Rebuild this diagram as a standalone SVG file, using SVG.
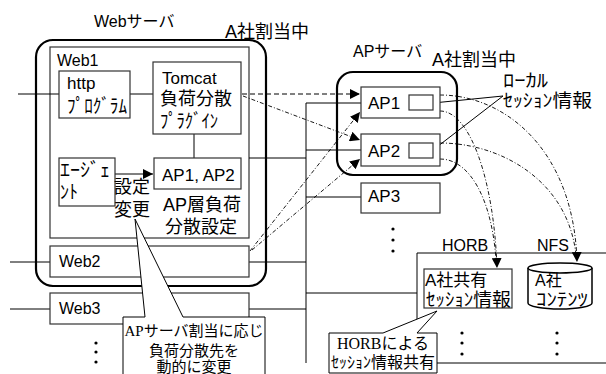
<svg xmlns="http://www.w3.org/2000/svg" width="606" height="374" viewBox="0 0 606 374">
<style>
text{font-family:"Liberation Sans","Noto Sans CJK JP",sans-serif;font-size:17px;fill:#000}
.j{font-size:18px}
.hk{font-size:19px}
.hs{font-size:18px}
.sr{font-family:"Liberation Serif","Noto Sans CJK JP",serif;font-size:15px}
.bx{fill:#fff;stroke:#333;stroke-width:1.2}
.grp{fill:none;stroke:#000;stroke-width:2.2}
.ln{fill:none;stroke:#000;stroke-width:1}
.ds{fill:none;stroke:#000;stroke-width:1;stroke-dasharray:5,3}
.dd{fill:none;stroke:#000;stroke-width:0.9;stroke-dasharray:4,2,1,2}
</style>
<defs>
<marker id="ah" viewBox="0 0 10 10" refX="10" refY="5" markerWidth="10" markerHeight="10" markerUnits="userSpaceOnUse" orient="auto">
<path d="M0,0 L10,5 L0,10 z" fill="#000"/>
</marker>
</defs>
<rect width="606" height="374" fill="#fff"/>

<g id="labels">
<text x="94" y="27" style="font-size:16px">Webサーバ</text>
<text x="225" y="38" class="j">A社割当中</text>
<text x="353" y="57" style="font-size:16px">APサーバ</text>
<text x="432" y="66" class="j">A社割当中</text>
<text x="442" y="251" style="font-size:16px">HORB</text>
<text x="537" y="251" style="font-size:16px">NFS</text>
</g>

<g id="web-server-group">
<rect x="36" y="40" width="230" height="246" rx="17" class="grp"/>
</g>

<g id="web1">
<rect x="50" y="47" width="199" height="191" style="fill:none;stroke:#333;stroke-width:1.2"/>
<text x="57" y="66" style="font-size:16px">Web1</text>
</g>

<g id="connectors">
<path class="ln" d="M18,94 H59 M130,94 H153 M194,134 V158 M249,158 H306 M306,103 V363 M306,103 H361 M306,150 H361 M306,197 H361 M10,262 H50 M249,262 H306 M10,309 H50 M249,309 H306 M306,293 H417"/>
<path class="ln" d="M115,174 H153" marker-end="url(#ah)"/>
<path class="ds" d="M242,94 H360" marker-end="url(#ah)"/>
<path class="dd" d="M243,96 L360,140" marker-end="url(#ah)"/>
<path class="dd" d="M250,251 L360,112" marker-end="url(#ah)"/>
<path class="dd" d="M252,250 L360,159" marker-end="url(#ah)"/>
<path class="dd" d="M440,95 C505,95 574,150 577,262" marker-end="url(#ah)"/>
<path class="dd" d="M440,143 C500,143 568,180 576,255"/>
<path class="dd" d="M440,111 C470,111 494,180 497,268" marker-end="url(#ah)"/>
<path class="dd" d="M440,159 C470,159 492,200 496,260"/>
<path class="ln" d="M503,96 L433,103 M503,96 L433,150"/>
</g>

<g id="http">
<rect x="59" y="71" width="71" height="47" class="bx"/>
<text x="67" y="89">http</text>
<text x="67" y="113" class="hk" textLength="60" lengthAdjust="spacingAndGlyphs">ﾌﾟﾛｸﾞﾗﾑ</text>
</g>

<g id="tomcat">
<rect x="153" y="62" width="88" height="72" class="bx"/>
<text x="162" y="84">Tomcat</text>
<text x="160" y="105" class="j">負荷分散</text>
<text x="160" y="128" class="hk" textLength="58" lengthAdjust="spacingAndGlyphs">ﾌﾟﾗｸﾞｲﾝ</text>
</g>

<g id="agent">
<rect x="59" y="158" width="56" height="48" class="bx"/>
<text x="60" y="177" class="hk" textLength="50" lengthAdjust="spacingAndGlyphs">ｴｰｼﾞｪ</text>
<text x="60" y="199" class="hk" textLength="18" lengthAdjust="spacingAndGlyphs">ﾝﾄ</text>
</g>

<g id="ap12-setting">
<rect x="154" y="158" width="87" height="31" class="bx"/>
<text x="162" y="181">AP1, AP2</text>
</g>

<g id="setting-labels">
<text x="114" y="193" class="j">設定</text>
<text x="114" y="216" class="j">変更</text>
<text x="163" y="211" class="j">AP層負荷</text>
<text x="165" y="233" class="j">分散設定</text>
</g>

<g id="web2">
<rect x="50" y="246" width="199" height="31" class="bx"/>
<text x="59" y="267" style="font-size:16px">Web2</text>
</g>

<g id="web3">
<rect x="50" y="293" width="199" height="31" class="bx"/>
<text x="59" y="314" style="font-size:16px">Web3</text>
</g>

<g id="ap-server-group">
<rect x="337" y="72" width="120" height="103" rx="16" class="grp"/>
</g>

<g id="ap1">
<rect x="361" y="87" width="79" height="31" class="bx"/>
<text x="368" y="109">AP1</text>
<rect x="409" y="95" width="24" height="15" class="bx"/>
</g>

<g id="ap2">
<rect x="361" y="134" width="79" height="32" class="bx"/>
<text x="368" y="157">AP2</text>
<rect x="409" y="143" width="24" height="15" class="bx"/>
</g>

<g id="ap3">
<rect x="361" y="183" width="79" height="30" class="bx"/>
<text x="368" y="202">AP3</text>
</g>

<g id="local-session-label">
<text x="503" y="87" class="hs" textLength="45" lengthAdjust="spacingAndGlyphs">ﾛｰｶﾙ</text>
<text x="503" y="107" class="hs" textLength="89" lengthAdjust="spacingAndGlyphs">ｾｯｼｮﾝ情報</text>
</g>

<g id="horb-area">
<path class="ln" d="M606,253 H417 V363 H606"/>
</g>

<g id="shared-session">
<rect x="424" y="269" width="88" height="39" class="bx"/>
<text x="425" y="286" style="font-size:17px">A社共有</text>
<text x="426" y="306" class="hs" textLength="85" lengthAdjust="spacingAndGlyphs">ｾｯｼｮﾝ情報</text>
</g>

<g id="nfs-contents">
<path d="M528,268 V303 A32,6 0 0 0 592,303 V268" fill="#fff" stroke="#000" stroke-width="1.5"/>
<ellipse cx="560" cy="268" rx="32" ry="5" fill="#fff" stroke="#000" stroke-width="1.5"/>
<text x="535" y="286" style="font-size:16px">A社</text>
<text x="536" y="306" class="hs" textLength="52" lengthAdjust="spacingAndGlyphs">ｺﾝﾃﾝﾂ</text>
</g>

<g id="dots">
<g fill="#000">
<circle cx="96" cy="343" r="1.6"/><circle cx="96" cy="352" r="1.6"/><circle cx="96" cy="362" r="1.6"/>
<circle cx="393" cy="229" r="1.6"/><circle cx="393" cy="240" r="1.6"/><circle cx="393" cy="251" r="1.6"/>
<circle cx="462" cy="333" r="1.6"/><circle cx="462" cy="343" r="1.6"/><circle cx="462" cy="354" r="1.6"/>
<circle cx="557" cy="333" r="1.6"/><circle cx="557" cy="343" r="1.6"/><circle cx="557" cy="354" r="1.6"/>
</g>
</g>

<g id="callout-ap">
<path d="M123,380 V317 H145 L135,219 L183,317 H265 V380" fill="#fff" stroke="#000" stroke-width="1"/>
<text x="194" y="336" class="sr" text-anchor="middle">APサーバ割当に応じ</text>
<text x="194" y="356" class="sr" text-anchor="middle">負荷分散先を</text>
<text x="194" y="372" class="sr" text-anchor="middle">動的に変更</text>
</g>

<g id="callout-horb">
<path d="M329,333 H383 L437,311 L417,333 H437 V373 H329 Z" fill="#fff" stroke="#000" stroke-width="1"/>
<text x="383" y="349" class="sr" text-anchor="middle" style="font-size:16px">HORBによる</text>
<text x="331" y="368" class="sr" textLength="104" lengthAdjust="spacingAndGlyphs" style="font-size:16px">ｾｯｼｮﾝ情報共有</text>
</g>
</svg>
